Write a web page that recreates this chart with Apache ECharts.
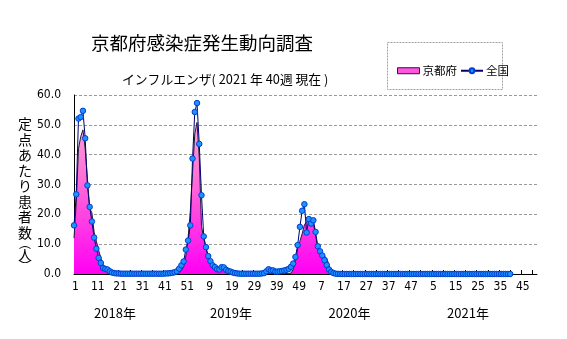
<!DOCTYPE html>
<html>
<head>
<meta charset="utf-8">
<script src="https://cdn.jsdelivr.net/npm/echarts@6/dist/echarts.min.js"></script>
<style>
  html, body { margin: 0; padding: 0; background: #fff; }
  #chart { width: 567px; height: 339px; }
</style>
</head>
<body>
<div id="chart"></div>
<script>
// Weekly influenza reports per sentinel site, 2018 week 1 to 2021 week 40
const years = [2018, 2019, 2020, 2021];
const weeksPerYear = 52;

// 全国 (national)
const national2018 = [
  16.3, 26.7, 52.1, 52.6, 54.7, 45.5, 29.7, 22.5, 17.6, 12.2,
  8.5, 5.4, 3.7, 2.0, 1.7, 1.5, 0.9, 0.5, 0.3, 0.2,
  0.2, 0.1, 0.1, 0.1, 0.1, 0.1, 0.1, 0.1, 0.1, 0.1,
  0.1, 0.1, 0.1, 0.1, 0.1, 0.1, 0.1, 0.1, 0.1, 0.1,
  0.1, 0.2, 0.2, 0.3, 0.4, 0.6, 0.9, 1.8, 2.9, 4.2,
  8.2, 11.2
];
const national2019 = [
  16.3, 38.7, 54.3, 57.3, 43.6, 26.4, 12.6, 9.0, 6.0, 4.3,
  2.9, 2.3, 1.6, 1.5, 2.3, 2.2, 1.4, 1.0, 0.8, 0.5,
  0.3, 0.2, 0.1, 0.1, 0.1, 0.1, 0.1, 0.1, 0.1, 0.1,
  0.1, 0.1, 0.2, 0.3, 0.9, 1.6, 1.2, 1.2, 0.8, 0.8,
  0.9, 1.0, 1.2, 1.4, 1.7, 2.4, 3.5, 5.7, 9.7, 15.8,
  21.2, 23.4
];
const national2020 = [
  13.9, 18.4, 16.9, 18.0, 14.1, 9.3, 7.6, 6.2, 4.6, 3.0,
  1.5, 0.7, 0.3, 0.1, 0.05, 0.02, 0.01, 0.01, 0.01, 0.01,
  0.01, 0.01, 0.01, 0.01, 0.01, 0.01, 0.01, 0.01, 0.01, 0.01,
  0.01, 0.01, 0.01, 0.01, 0.01, 0.01, 0.01, 0.01, 0.01, 0.01,
  0.01, 0.01, 0.01, 0.01, 0.01, 0.01, 0.01, 0.01, 0.01, 0.01,
  0.01, 0.01
];
const national2021 = [
  0.01, 0.01, 0.01, 0.01, 0.01, 0.01, 0.01, 0.01, 0.01, 0.01,
  0.01, 0.01, 0.01, 0.01, 0.01, 0.01, 0.01, 0.01, 0.01, 0.01,
  0.01, 0.01, 0.01, 0.01, 0.01, 0.01, 0.01, 0.01, 0.01, 0.01,
  0.01, 0.01, 0.01, 0.01, 0.01, 0.01, 0.01, 0.01, 0.01, 0.01
];

// 京都府 (Kyoto Prefecture)
const kyoto2018 = [
  12, 24, 42, 46, 48.3, 42, 32, 22, 20.5, 14,
  11, 8, 5.3, 3.2, 1.8, 1.1, 0.7, 0.4, 0.3, 0.2,
  0.1, 0.1, 0.1, 0.1, 0.1, 0.1, 0.1, 0.1, 0.1, 0.1,
  0.1, 0.1, 0.1, 0.1, 0.1, 0.1, 0.1, 0.1, 0.1, 0.1,
  0.1, 0.1, 0.1, 0.1, 0.2, 0.2, 0.3, 0.5, 1.2, 2.5,
  6, 12
];
const kyoto2019 = [
  21, 34, 47, 50.8, 39, 16, 12, 8.5, 6, 4.3,
  3.2, 2.4, 1.8, 1.4, 1.6, 2.0, 1.8, 1.2, 0.7, 0.4,
  0.2, 0.1, 0.1, 0.1, 0.1, 0.1, 0.1, 0.1, 0.1, 0.1,
  0.1, 0.1, 0.1, 0.2, 0.3, 0.3, 0.3, 0.2, 0.2, 0.2,
  0.2, 0.2, 0.2, 0.2, 0.2, 0.3, 1.5, 4, 8.5, 11,
  13.5, 16.5
];
const kyoto2020 = [
  17.5, 18, 17.8, 17, 13, 8.5, 7.2, 6.8, 6, 5.3,
  3.0, 0.8, 0.1, 0, 0, 0, 0, 0, 0, 0,
  0, 0, 0, 0, 0, 0, 0, 0, 0, 0,
  0, 0, 0, 0, 0, 0, 0, 0, 0, 0,
  0, 0, 0, 0, 0, 0, 0, 0, 0, 0,
  0, 0
];
const kyoto2021 = [
  0, 0, 0, 0, 0, 0, 0, 0, 0, 0,
  0, 0, 0, 0, 0, 0, 0, 0, 0, 0,
  0, 0, 0, 0, 0, 0, 0, 0, 0, 0,
  0, 0, 0, 0, 0, 0, 0, 0, 0, 0
];

const yAxisTicks = [0, 10, 20, 30, 40, 50, 60];
const yearLabels = ['2018年', '2019年', '2020年', '2021年'];
const yAxisTitleChars = ['定', '点', 'あ', 'た', 'り', '患', '者', '数'];

const categories = [];
years.forEach(function (y) {
  for (let w = 1; w <= weeksPerYear; w++) categories.push(y + '-' + w);
});
const national = [].concat(national2018, national2019, national2020, national2021);
const kyoto = [].concat(kyoto2018, kyoto2019, kyoto2020, kyoto2021);

const narrow = "'Liberation Sans Narrow', 'DejaVu Sans Condensed', 'Liberation Sans', sans-serif";
const jp = "'Noto Sans CJK JP', sans-serif";

const chart = echarts.init(document.getElementById('chart'), null, { renderer: 'canvas' });

const pinkFill = new echarts.graphic.LinearGradient(0, 100, 0, 274, [
  { offset: 0, color: '#ffb4dc' },
  { offset: 0.45, color: '#ff6fd6' },
  { offset: 1, color: '#ff00f4' }
], true);

const yTitleText = yAxisTitleChars.map(function (c) { return '{c|' + c + '}'; }).join('\n')
  + '\n{p|︵}\n{c|人}\n{p|︶}';

chart.setOption({
  animation: false,
  backgroundColor: '#fff',
  title: [
    {
      text: '京都府感染症発生動向調査',
      left: 86, top: 29,
      textStyle: { fontFamily: jp, fontSize: 18.5, fontWeight: 'normal', color: '#000' }
    },
    {
      text: 'インフルエンザ( 2021 年 40週 現在 )',
      left: 117, top: 68,
      textStyle: { fontFamily: jp, fontSize: 12.8, fontWeight: 'normal', color: '#000' }
    }
  ],
  legend: {
    left: 392, top: 60,
    itemWidth: 22, itemHeight: 6, itemGap: 3,
    textStyle: { fontFamily: jp, fontSize: 11.5, color: '#000', padding: [0, 0, 0, -2] },
    data: [
      { name: '京都府', icon: 'rect', itemStyle: { color: '#ff55e0', borderColor: '#202030', borderWidth: 1 } },
      { name: '全国' }
    ]
  },
  grid: { left: 74, right: 30, top: 95, bottom: 65 },
  xAxis: {
    type: 'category',
    data: categories,
    boundaryGap: false,
    axisLine: { lineStyle: { color: '#000', width: 1 } },
    axisTick: { inside: true, length: 4, interval: 4, lineStyle: { color: '#000' } },
    axisLabel: {
      interval: 9,
      margin: 7,
      fontFamily: narrow,
      fontSize: 12,
      color: '#000',
      padding: [0, 0, 0, 3],
      formatter: function (v) { return v.split('-')[1]; }
    },
    splitLine: { show: false }
  },
  yAxis: {
    type: 'value',
    min: yAxisTicks[0],
    max: yAxisTicks[yAxisTicks.length - 1],
    interval: 10,
    axisLine: { show: true, lineStyle: { color: '#000', width: 1 } },
    axisTick: { show: false },
    axisLabel: {
      margin: 13,
      fontFamily: narrow,
      fontSize: 12,
      color: '#000',
      formatter: function (v) { return v.toFixed(1); }
    },
    splitLine: { show: true, lineStyle: { color: '#9a9a9a', type: [3, 2], width: 1 } }
  },
  graphic: [
    {
      type: 'rect',
      shape: { x: 387.5, y: 42.5, width: 115, height: 47 },
      style: { fill: null, stroke: '#a0a0a0', lineWidth: 1, lineDash: [2, 1] },
      silent: true
    },
    {
      type: 'text',
      x: 25, y: 116,
      style: {
        text: yTitleText,
        align: 'center',
        verticalAlign: 'top',
        fill: '#000',
        rich: {
          c: { fontFamily: jp, fontSize: 14, lineHeight: 15.5, align: 'center' },
          p: { fontFamily: jp, fontSize: 12, lineHeight: 7, align: 'center' }
        }
      },
      silent: true
    }
  ].concat(yearLabels.map(function (t, i) {
    return {
      type: 'text',
      x: [115, 231, 349.5, 468][i], y: 313,
      style: { text: t, fontFamily: jp, fontSize: 13, fill: '#000', align: 'center', verticalAlign: 'middle' },
      silent: true
    };
  })),
  series: [
    {
      name: '京都府',
      type: 'line',
      data: kyoto,
      symbol: 'none',
      smooth: false,
      lineStyle: { color: '#1c1c3a', width: 1 },
      itemStyle: { color: '#ff55e0' },
      areaStyle: { color: pinkFill, opacity: 1 },
      z: 2
    },
    {
      name: '全国',
      type: 'line',
      data: national,
      symbol: 'circle',
      symbolSize: 5.5,
      showAllSymbol: true,
      smooth: false,
      lineStyle: { color: '#000070', width: 1 },
      itemStyle: { color: '#1e90ff', borderColor: '#0040d0', borderWidth: 1 },
      z: 3
    }
  ]
});
</script>
</body>
</html>
